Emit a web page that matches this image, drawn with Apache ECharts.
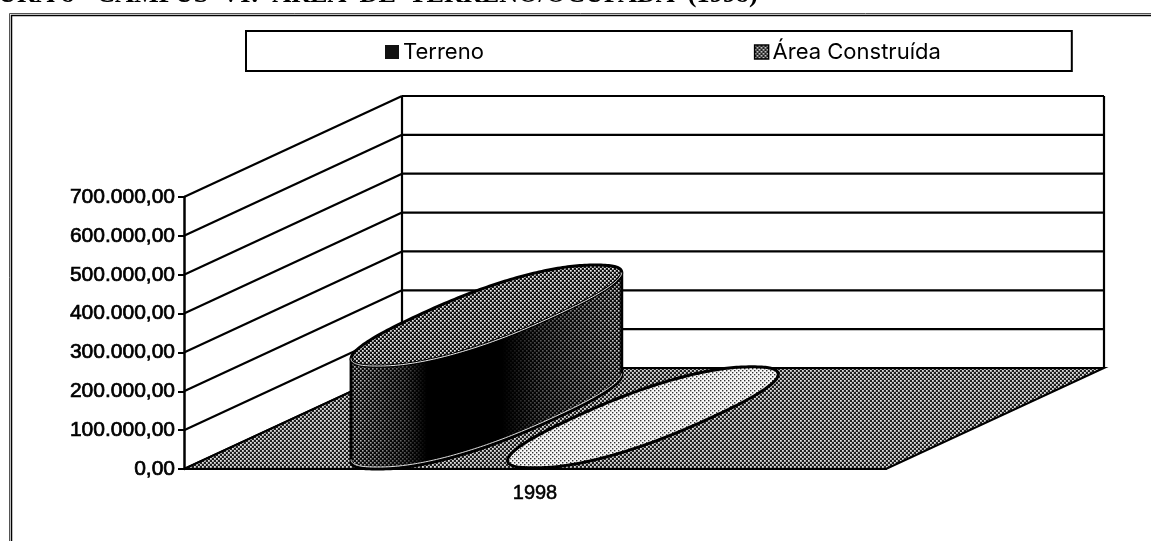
<!DOCTYPE html>
<html>
<head>
<meta charset="utf-8">
<script src="https://cdn.jsdelivr.net/npm/echarts@6/dist/echarts.min.js"></script>
<style>
  html, body { margin: 0; padding: 0; background: #fff; }
  #container { width: 1151px; height: 541px; }
</style>
</head>
<body>
<div id="container"></div>
<script>
const titleText = 'URA 8 - CAMPUS  VI:  ÁREA  DE  TERRENO/OCUPADA  (1998)';
const years = ['1998'];
const seriesNames = ['Terreno', 'Área Construída'];
const terreno = [265000];
const areaConstruida = [3000];
const yTicks = [0, 100000, 200000, 300000, 400000, 500000, 600000, 700000];

// how far the back of the 3D box sits from the front, px
const DX = 218, DY = 101;

function dots(bg, fg, size) {
  const c = document.createElement('canvas');
  c.width = 4; c.height = 4;
  const g = c.getContext('2d');
  g.fillStyle = bg;
  g.fillRect(0, 0, 4, 4);
  g.fillStyle = fg;
  g.fillRect(0, 0, size, size);
  g.fillRect(2, 2, size, size);
  return { image: c, repeat: 'repeat' };
}
const floorFill = dots('#1e1e1e', '#e0e0e0', 1.8);
const topFill = dots('#111', '#ececec', 1.7);
const sideFill = dots('#0c0c0c', '#dcdcdc', 1.6);
const areaFill = dots('#f8f8f8', '#333', 1.4);
const swatchFill = dots('#222', '#ddd', 1.6);

// the rings are a little squarer than a true ellipse, as in the scan
function soft(v) {
  return Math.sign(v) * Math.pow(Math.abs(v), 0.84);
}

function ringPoint(cx, cy, a, t) {
  const c = soft(Math.cos(t)), s = soft(Math.sin(t));
  return [cx + a * c + DX / 2 * s, cy - DY / 2 * s];
}

function ring(cx, cy, a) {
  const pts = [];
  for (let i = 0; i < 240; i++) {
    pts.push(ringPoint(cx, cy, a, Math.PI * 2 * i / 240));
  }
  return pts;
}

// front half of a ring, from its leftmost point to its rightmost one
function frontArc(pts) {
  let l = 0, r = 0;
  pts.forEach((p, i) => {
    if (p[0] < pts[l][0]) l = i;
    if (p[0] > pts[r][0]) r = i;
  });
  const out = [];
  for (let i = l; ; i = (i + 1) % pts.length) {
    out.push(pts[i]);
    if (i === r) break;
  }
  return out;
}

// one cylinder standing on the floor, slot = shift along the category band
function cylinder(slot, fill, shaded) {
  return function (params, api) {
    const bottom = api.coord([api.value(0), 0]);
    const head = api.coord([api.value(0), api.value(1)]);
    const band = api.size([1, 0])[0];
    const cx = bottom[0] + band * slot + DX / 2;
    const cy = bottom[1] - DY / 2;
    const h = bottom[1] - head[1];
    const a = band * 0.098;
    const base = ring(cx, cy, a);
    const frontLow = frontArc(base);
    const frontHigh = frontLow.map(p => [p[0], p[1] - h]).reverse();
    const children = [];
    if (h > 4) {
      children.push({
        type: 'polygon',
        shape: { points: frontLow.concat(frontHigh) },
        style: { fill: fill.side, stroke: '#000', lineWidth: 3 }
      });
      if (shaded) {
        children.push({
          type: 'polygon',
          shape: { points: frontLow.concat(frontHigh) },
          style: {
            fill: new echarts.graphic.LinearGradient(0, 0, 1, 0, [
              { offset: 0, color: 'rgba(0,0,0,0.1)' },
              { offset: 0.2, color: 'rgba(0,0,0,0.6)' },
              { offset: 0.28, color: 'rgba(0,0,0,1)' },
              { offset: 0.56, color: 'rgba(0,0,0,1)' },
              { offset: 0.7, color: 'rgba(0,0,0,0.6)' },
              { offset: 1, color: 'rgba(0,0,0,0.05)' }
            ])
          }
        });
      }
      children.push({
        type: 'polyline',
        shape: { points: frontLow.map(p => [p[0], p[1] - 2]) },
        style: { fill: 'none', stroke: '#ddd', lineWidth: 1 }
      });
    }
    children.push({
      type: 'polygon',
      shape: { points: base.map(p => [p[0], p[1] - h]) },
      style: { fill: fill.top, stroke: '#000', lineWidth: 3 }
    });
    if (h > 4) {
      children.push({
        type: 'polyline',
        shape: { points: frontHigh },
        style: { fill: 'none', stroke: '#eee', lineWidth: 1 }
      });
    }
    return { type: 'group', children: children };
  };
}

function renderFloor(params, api) {
  const o = api.coord([0, 0]);
  const s = params.coordSys;
  const x = s.x, r = s.x + s.width, y = o[1];
  return {
    type: 'polygon',
    shape: { points: [[x, y], [r, y], [r + DX, y - DY], [x + DX, y - DY]] },
    style: { fill: floorFill, stroke: '#000', lineWidth: 2 }
  };
}

function renderWall(params, api) {
  const s = params.coordSys;
  const y = api.coord([0, api.value(0)])[1];
  const line = (x1, y1, x2, y2) => ({
    type: 'line',
    shape: { x1: x1, y1: y1, x2: x2, y2: y2 },
    style: { stroke: '#000', lineWidth: 2.2 }
  });
  const children = [
    line(s.x, y, s.x + DX, y - DY),
    line(s.x + DX, y - DY, s.x + s.width + DX, y - DY)
  ];
  if (params.dataIndex === yTicks.length - 1) {
    const low = s.y + s.height - DY;
    children.push(line(s.x + DX, y - DY, s.x + DX, low));
    children.push(line(s.x + s.width + DX, y - DY, s.x + s.width + DX, low));
  }
  return { type: 'group', children: children };
}

function brNumber(v) {
  return v.toFixed(2).replace('.', ',').replace(/\B(?=(\d{3})+(?!\d))/g, '.');
}

const chart = echarts.init(document.getElementById('container'), null, { renderer: 'canvas' });
chart.setOption({
  animation: false,
  backgroundColor: '#fff',
  title: {
    text: titleText,
    left: -2,
    top: -18,
    padding: 0,
    textStyle: { fontFamily: 'Liberation Serif', fontWeight: 'bold', fontSize: 26.2, color: '#000' }
  },
  legend: {
    left: 246,
    top: 31,
    padding: [10, 131, 8, 139],
    itemGap: 270,
    itemWidth: 14,
    itemHeight: 14,
    borderColor: '#000',
    borderWidth: 2,
    backgroundColor: '#fff',
    selectedMode: false,
    textStyle: { fontFamily: 'Inter', fontSize: 22, color: '#000', padding: [0, 0, 0, -1] },
    data: [
      { name: seriesNames[0], icon: 'rect', itemStyle: { color: '#111', borderWidth: 0 } },
      { name: seriesNames[1], icon: 'rect', itemStyle: { color: swatchFill, borderColor: '#000', borderWidth: 1.5 } }
    ]
  },
  grid: { left: 184, top: 197, width: 702, height: 272 },
  xAxis: {
    type: 'category',
    data: years,
    z: 10,
    axisLine: { lineStyle: { color: '#000', width: 2 } },
    axisTick: { length: 6, lineStyle: { color: '#000', width: 2 } },
    axisLabel: {
      color: '#000',
      fontFamily: 'Liberation Sans',
      fontSize: 20,
      margin: 14,
      textBorderColor: '#000',
      textBorderWidth: 0.5
    }
  },
  yAxis: {
    type: 'value',
    min: 0,
    max: 700000,
    interval: 100000,
    z: 10,
    splitLine: { show: false },
    axisLine: { show: true, lineStyle: { color: '#000', width: 2.5 } },
    axisTick: { show: true, length: 6, lineStyle: { color: '#000', width: 2 } },
    axisLabel: {
      color: '#000',
      fontFamily: 'Liberation Sans',
      fontSize: 21,
      margin: 9,
      textBorderColor: '#000',
      textBorderWidth: 0.7,
      formatter: brNumber
    }
  },
  graphic: [
    {
      type: 'polyline',
      silent: true,
      shape: { points: [[9.5, 541], [9.5, 13.5], [1151, 13.5]] },
      style: { fill: 'none', stroke: '#555', lineWidth: 1 }
    },
    {
      type: 'polyline',
      silent: true,
      shape: { points: [[11.5, 541], [11.5, 15.5], [1151, 15.5]] },
      style: { fill: 'none', stroke: '#000', lineWidth: 1.5 }
    }
  ],
  series: [
    {
      type: 'custom',
      name: 'parede',
      z: 2,
      silent: true,
      clip: false,
      coordinateSystem: 'cartesian2d',
      data: yTicks.map(v => [v]),
      encode: { y: 0 },
      renderItem: renderWall
    },
    {
      type: 'custom',
      name: 'piso',
      z: 3,
      silent: true,
      clip: false,
      data: [[0, 0]],
      renderItem: renderFloor
    },
    {
      type: 'custom',
      name: seriesNames[0],
      z: 4,
      silent: true,
      clip: false,
      data: years.map((y, i) => [i, terreno[i]]),
      encode: { x: 0, y: 1 },
      renderItem: cylinder(-0.2245, { side: sideFill, top: topFill }, true)
    },
    {
      type: 'custom',
      name: seriesNames[1],
      z: 5,
      silent: true,
      clip: false,
      data: years.map((y, i) => [i, areaConstruida[i]]),
      encode: { x: 0, y: 1 },
      renderItem: cylinder(-0.0015, { side: areaFill, top: areaFill }, false)
    }
  ]
});
</script>
</body>
</html>
